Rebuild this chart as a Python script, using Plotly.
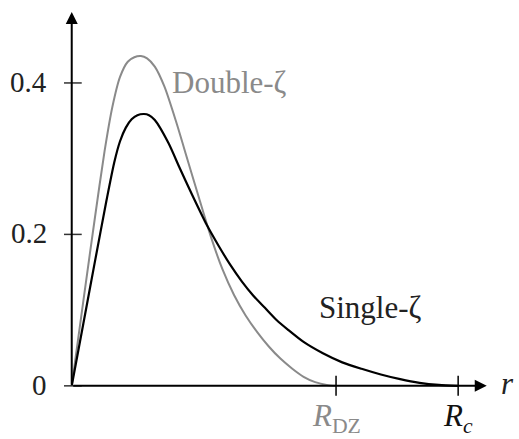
import plotly.graph_objects as go

# Radial functions sampled along r (in units of R_c)
r_double = [0, 0.03, 0.06, 0.085, 0.105, 0.125, 0.145, 0.162, 0.179, 0.195, 0.215,
            0.24, 0.27, 0.30, 0.33, 0.36, 0.39, 0.42, 0.45, 0.48, 0.51, 0.54,
            0.57, 0.60, 0.63, 0.66, 0.684]
psi_double = [0, 0.112, 0.222, 0.310, 0.368, 0.408, 0.428, 0.434, 0.4355, 0.4325, 0.4215,
              0.395, 0.349, 0.298, 0.247, 0.197, 0.154, 0.120, 0.093, 0.071, 0.052, 0.036,
              0.023, 0.012, 0.005, 0.0012, 0]

r_single = [0, 0.03, 0.06, 0.09, 0.11, 0.125, 0.14, 0.155, 0.17, 0.187, 0.20, 0.215,
            0.25, 0.28, 0.31, 0.35, 0.38, 0.41, 0.44, 0.47, 0.50, 0.53, 0.56, 0.60,
            0.65, 0.70, 0.75, 0.80, 0.85, 0.90, 0.95, 1.0]
psi_single = [0, 0.082, 0.164, 0.245, 0.295, 0.323, 0.341, 0.352, 0.3575, 0.359, 0.3575, 0.351,
              0.321, 0.287, 0.254, 0.212, 0.185, 0.160, 0.138, 0.119, 0.103, 0.087, 0.074, 0.058,
              0.043, 0.031, 0.0225, 0.015, 0.0088, 0.0040, 0.0012, 0]

y_ticks = [0, 0.2, 0.4]
y_tick_text = ["0", "0.2", "0.4"]
x_ticks = [0.684, 1.0]
x_tick_text = ["<i>R</i><sub>DZ</sub>", "<i>R<sub>c</sub></i>"]
x_tick_colors = ["#8a8a8a", "#111111"]

X_MIN, X_MAX = -0.02, 1.085
Y_MIN, Y_MAX = -0.02, 0.4937
X_ARROW = 1.074

GRAY = "#8a8a8a"
FONT = "Liberation Serif"
FS_TICK = 29
FS_LABEL = 31

fig = go.Figure()
fig.add_trace(go.Scatter(x=r_double, y=psi_double, mode="lines",
                         line=dict(color=GRAY, width=2, shape="spline", smoothing=0.7),
                         hoverinfo="skip"))
fig.add_trace(go.Scatter(x=r_single, y=psi_single, mode="lines",
                         line=dict(color="black", width=2.2, shape="spline", smoothing=0.7),
                         hoverinfo="skip"))

shapes = []
annotations = []

# axes with arrow heads
annotations.append(dict(x=X_ARROW, y=0, ax=0, ay=0, xref="x", yref="y", axref="x", ayref="y",
                        showarrow=True, arrowhead=2, arrowsize=1.2, arrowwidth=2,
                        arrowcolor="black", text=""))
annotations.append(dict(x=0, y=Y_MAX, ax=0, ay=0, xref="x", yref="y", axref="x", ayref="y",
                        showarrow=True, arrowhead=2, arrowsize=1.2, arrowwidth=2,
                        arrowcolor="black", text=""))

# y ticks crossing the axis
hx = 10 / 386.4
for v, t in zip(y_ticks, y_tick_text):
    shapes.append(dict(type="line", xref="x", yref="y", x0=-hx, x1=hx, y0=v, y1=v,
                       line=dict(color="#333333", width=1.5), layer="above"))
    annotations.append(dict(x=0, y=v, xref="x", yref="y", text=t, showarrow=False,
                            xanchor="right", yanchor="middle", xshift=-23, yshift=1,
                            font=dict(family=FONT, size=FS_TICK, color="#222222")))

# x ticks crossing the axis
hy = 10 / 757.2
for v, t, c in zip(x_ticks, x_tick_text, x_tick_colors):
    shapes.append(dict(type="line", xref="x", yref="y", x0=v, x1=v, y0=-hy, y1=hy,
                       line=dict(color="black", width=1.5), layer="above"))
    annotations.append(dict(x=v, y=0, xref="x", yref="y", text=t, showarrow=False,
                            xanchor="center", yanchor="middle", yshift=-32,
                            font=dict(family=FONT, size=FS_LABEL, color=c)))

annotations.append(dict(x=X_ARROW, y=0, xref="x", yref="y", text="<i>r</i>", showarrow=False,
                        xanchor="left", yanchor="middle", xshift=12, yshift=2,
                        font=dict(family=FONT, size=FS_LABEL, color="#222222")))

# curve labels
annotations.append(dict(x=0.2536, y=0.401, xref="x", yref="y", text="Double-ζ",
                        showarrow=False, xanchor="left", yanchor="middle",
                        font=dict(family=FONT, size=FS_LABEL, color=GRAY)))
annotations.append(dict(x=0.634, y=0.104, xref="x", yref="y", text="Single-ζ",
                        showarrow=False, xanchor="left", yanchor="middle",
                        font=dict(family=FONT, size=FS_LABEL, color="#222222")))

fig.update_layout(
    width=519, height=439,
    margin=dict(l=64, r=28, t=12, b=38),
    paper_bgcolor="white", plot_bgcolor="white",
    showlegend=False,
    xaxis=dict(range=[X_MIN, X_MAX], visible=False, fixedrange=True),
    yaxis=dict(range=[Y_MIN, Y_MAX], visible=False, fixedrange=True),
    shapes=shapes,
    annotations=annotations,
)

fig.write_html("out.html")
